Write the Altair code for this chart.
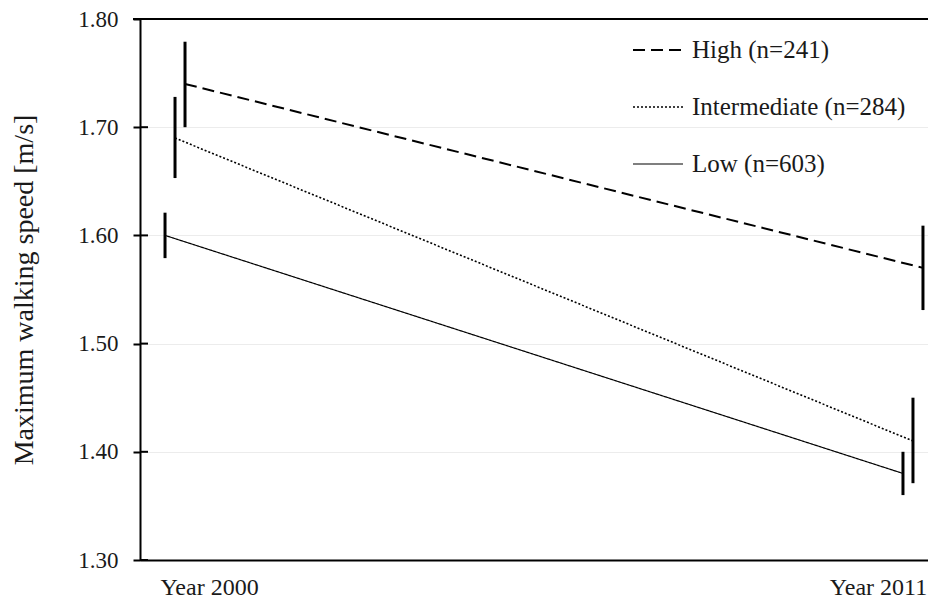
import altair as alt
import pandas as pd

groups = ["High (n=241)", "Intermediate (n=284)", "Low (n=603)"]
years = [2000, 2011]
mean_2000 = [1.74, 1.69, 1.60]
mean_2011 = [1.57, 1.41, 1.38]
lo_2000 = [1.700, 1.653, 1.579]
hi_2000 = [1.779, 1.728, 1.621]
lo_2011 = [1.531, 1.371, 1.360]
hi_2011 = [1.609, 1.450, 1.400]
y_ticks = [1.3, 1.4, 1.5, 1.6, 1.7, 1.8]

rows = []
for i, g in enumerate(groups):
    rows.append(dict(year=years[0], group=g, mean=mean_2000[i], lo=lo_2000[i], hi=hi_2000[i]))
    rows.append(dict(year=years[1], group=g, mean=mean_2011[i], lo=lo_2011[i], hi=hi_2011[i]))
df = pd.DataFrame(rows)

FONT = "Liberation Serif"
TXT = "#1a1a1a"

# small side-by-side dodge of the three series (High right, Low left)
dodge_expr = "datum.year + 0.149 * (1 - indexof(['High (n=241)', 'Intermediate (n=284)', 'Low (n=603)'], datum.group))"

x_enc = alt.X(
    "xpos:Q",
    scale=alt.Scale(domain=[1999.478, 2011.224], nice=False, zero=False),
    axis=alt.Axis(
        title=None, values=years, labelExpr="'Year ' + datum.value",
        labelFont=FONT, labelFontSize=24, labelColor=TXT,
        domainColor="black", domainWidth=2, ticks=False, grid=False,
        labelAngle=0, labelPadding=15, labelFlush=False, labelOverlap=False,
        labelOffset={"condition": {"test": "datum.value === 2000", "value": 34}, "value": -35},
    ),
)
y_scale = alt.Scale(domain=[1.3, 1.8], nice=False, zero=False)
y_axis = alt.Axis(
    values=y_ticks, format=".2f", title="Maximum walking speed [m/s]",
    titleFont=FONT, titleFontSize=28, titleFontWeight="normal", titleColor=TXT,
    titlePadding=39, labelFont=FONT, labelFontSize=23, labelColor=TXT,
    labelPadding=15, tickSize=7, tickWidth=2, tickColor="black",
    domainColor="black", domainWidth=2, gridColor="#ececec", gridWidth=1,
)

legend = alt.Legend(
    orient="none", legendX=492, legendY=5, title=None, symbolType="stroke",
    symbolSize=2500, symbolStrokeColor="black", labelFont=FONT, labelFontSize=25,
    labelColor=TXT, labelOffset=8, rowPadding=18, labelLimit=0,
)

base = alt.Chart(df).transform_calculate(xpos=dodge_expr)

lines = base.mark_line(color="black").encode(
    x=x_enc,
    y=alt.Y("mean:Q", scale=y_scale, axis=y_axis),
    strokeDash=alt.StrokeDash("group:N", scale=alt.Scale(domain=groups, range=[[12, 6], [2, 2], [1, 0]]), legend=legend),
    strokeWidth=alt.StrokeWidth("group:N", scale=alt.Scale(domain=groups, range=[2, 1.2, 1.8]), legend=legend),
)

bars = base.mark_rule(color="black", strokeWidth=3).encode(
    x=x_enc,
    y=alt.Y("lo:Q", scale=y_scale, axis=y_axis), y2="hi:Q",
)

inner_ticks = alt.Chart(pd.DataFrame({"v": y_ticks})).mark_rule(color="black", strokeWidth=2).encode(
    y=alt.Y("v:Q", scale=y_scale, axis=y_axis), x=alt.value(0), x2=alt.value(8),
)

top_line = alt.Chart(pd.DataFrame({"k": [0]})).mark_rule(color="black", strokeWidth=2).encode(
    x=alt.value(-7), x2=alt.value(788), y=alt.value(0),
)

chart = alt.layer(lines, bars, inner_ticks, top_line).properties(
    width=788, height=541,
    padding={"left": 132, "top": 11, "right": 0, "bottom": 40},
    autosize="none", background="white",
).configure_view(stroke=None).configure_legend(labelFont=FONT)

chart.save("out.html", embed_options={"renderer": "svg", "actions": False})
